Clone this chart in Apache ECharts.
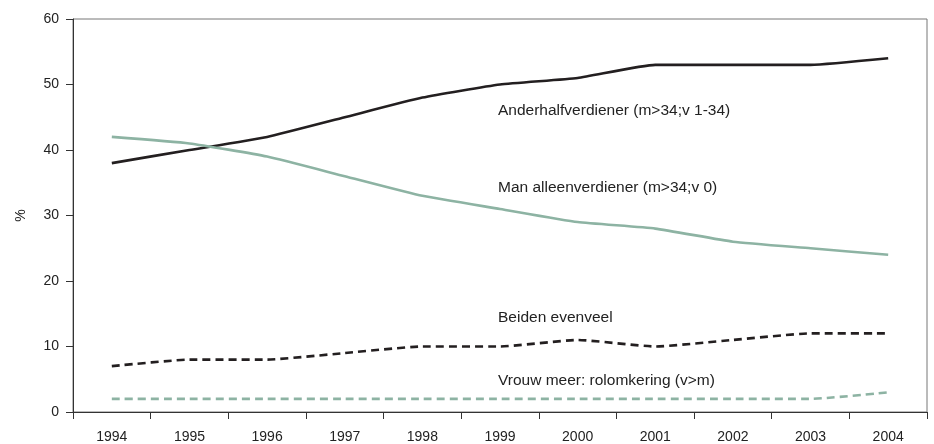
<!DOCTYPE html>
<html>
<head>
<meta charset="utf-8">
<script src="https://cdn.jsdelivr.net/npm/echarts@6/dist/echarts.min.js"></script>
<style>
html,body{margin:0;padding:0;background:#fff;}
#chart{width:934px;height:444px;}
</style>
</head>
<body>
<div id="chart"></div>
<script>
var years = ['1994','1995','1996','1997','1998','1999','2000','2001','2002','2003','2004'];
var anderhalf = [38, 40, 42, 45, 48, 50, 51, 53, 53, 53, 54];
var manAlleen = [42, 41, 39, 36, 33, 31, 29, 28, 26, 25, 24];
var beiden = [7, 8, 8, 9, 10, 10, 11, 10, 11, 12, 12];
var vrouwMeer = [2, 2, 2, 2, 2, 2, 2, 2, 2, 2, 3];
var seriesNames = ['Anderhalfverdiener (m>34;v 1-34)', 'Man alleenverdiener (m>34;v 0)', 'Beiden evenveel', 'Vrouw meer: rolomkering (v>m)'];
var yTicks = [0, 10, 20, 30, 40, 50, 60];

var BLACK = '#231f20';
var GREEN = '#8db3a3';
var FONT = 'Liberation Sans';

var chart = echarts.init(document.getElementById('chart'), null, {renderer: 'canvas'});
function line(name, data, color, dashed) {
  return {
    name: name, type: 'line', data: data, symbol: 'none', smooth: 0.15,
    lineStyle: {color: color, width: 2.6, type: dashed ? [8, 5] : 'solid'},
    z: 3
  };
}
var labelFont = '15.5px "Liberation Sans"';
chart.setOption({
  animation: false,
  textStyle: {fontFamily: FONT},
  grid: {left: 73, right: 7, top: 19, bottom: 32, show: true, borderColor: '#777', borderWidth: 1},
  xAxis: {
    type: 'category', data: years, boundaryGap: true,
    axisLine: {lineStyle: {color: '#333', width: 1}},
    axisTick: {show: true, alignWithLabel: false, length: 7, lineStyle: {color: '#333'}},
    axisLabel: {color: '#222', fontSize: 14, margin: 18, fontFamily: FONT},
    splitLine: {show: false}
  },
  yAxis: {
    type: 'value', min: yTicks[0], max: yTicks[yTicks.length - 1], interval: 10,
    name: '%', nameLocation: 'middle', nameGap: 45, nameRotate: 90, nameMoveOverlap: false,
    nameTextStyle: {color: '#222', fontSize: 14, fontFamily: FONT},
    axisLine: {show: true, lineStyle: {color: '#333', width: 1}},
    axisTick: {show: true, length: 7, lineStyle: {color: '#333'}},
    axisLabel: {color: '#222', fontSize: 14, margin: 14, fontFamily: FONT},
    splitLine: {show: false}
  },
  series: [
    line(seriesNames[0], anderhalf, BLACK, false),
    line(seriesNames[1], manAlleen, GREEN, false),
    line(seriesNames[2], beiden, BLACK, true),
    line(seriesNames[3], vrouwMeer, GREEN, true)
  ],
  graphic: [
    {type: 'text', left: 498, top: 103, style: {text: seriesNames[0], fill: '#222', font: labelFont}},
    {type: 'text', left: 498, top: 180, style: {text: seriesNames[1], fill: '#222', font: labelFont}},
    {type: 'text', left: 498, top: 310, style: {text: seriesNames[2], fill: '#222', font: labelFont}},
    {type: 'text', left: 498, top: 373, style: {text: seriesNames[3], fill: '#222', font: labelFont}}
  ]
});
</script>
</body>
</html>
